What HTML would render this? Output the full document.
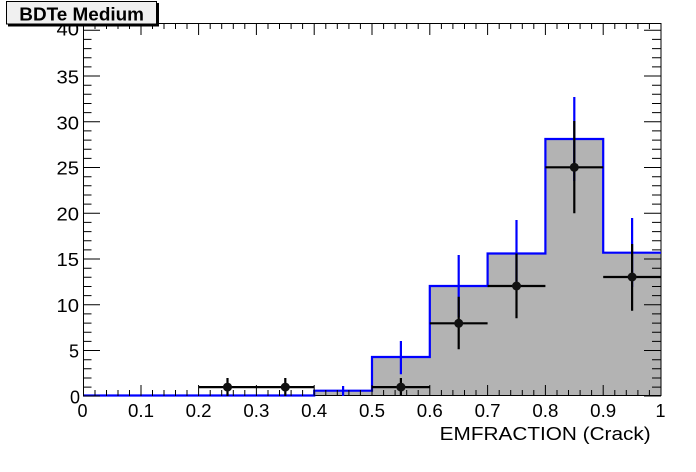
<!DOCTYPE html>
<html><head><meta charset="utf-8"><style>
html,body{margin:0;padding:0;background:#fff;}
svg{display:block;}
text{font-family:"Liberation Sans",Arial,sans-serif;fill:#000;}
</style></head><body>
<svg width="696" height="472" viewBox="0 0 696 472" xmlns="http://www.w3.org/2000/svg">
<rect x="0" y="0" width="696" height="472" fill="#fff"/>
<!-- histogram fill -->
<path d="M314.2 396 V390.7 H372 V357 H429.8 V286 H487.6 V253.5 H545.4 V139 H603.2 V252.7 H661 V396 Z" fill="#b3b3b3"/>
<!-- frame -->
<rect x="83.5" y="23.5" width="577.5" height="372" fill="none" stroke="#000" stroke-width="1"/>
<!-- histogram outline -->
<path d="M83 395.5 H314.2 V390.7 H372 V357 H429.8 V286 H487.6 V253.5 H545.4 V139 H603.2 V252.7 H661" fill="none" stroke="#0000ff" stroke-width="2.2"/>
<!-- hist errors -->
<path d="M343.1 386 V396 M400.9 341 V374.3 M458.7 255 V317 M516.5 220 V287 M574.3 97 V181 M632.1 218 V287" stroke="#0000ff" stroke-width="2.2" fill="none"/>
<!-- data -->
<path d="M198.6 387.1 H314.2 M372 387.1 H429.8 M429.8 323.3 H487.6 M487.6 286 H545.4 M545.4 167.3 H603.2 M603.2 277 H661
M227.5 378 V396 M285.3 378 V396 M400.9 378 V396 M458.7 296.7 V349.3 M516.5 253.5 V318.3 M574.3 121 V213.3 M632.1 244 V310.7" stroke="#000" stroke-width="2.2" fill="none"/>
<g fill="#111">
<circle cx="227.5" cy="387.1" r="4.5"/>
<circle cx="285.3" cy="387.1" r="4.5"/>
<circle cx="400.9" cy="387.1" r="4.5"/>
<circle cx="458.7" cy="323.3" r="4.5"/>
<circle cx="516.5" cy="286" r="4.5"/>
<circle cx="574.3" cy="167.3" r="4.5"/>
<circle cx="632.1" cy="277" r="4.5"/>
</g>
<!-- x ticks bottom & top -->
<path stroke="#000" stroke-width="1" fill="none" d="
M83.5 396 v-11 M95 396 v-6 M106.5 396 v-6 M118 396 v-6 M129.5 396 v-6
M141 396 v-11 M152.5 396 v-6 M164 396 v-6 M175.5 396 v-6 M187 396 v-6
M198.6 396 v-11 M210.2 396 v-6 M221.7 396 v-6 M233.3 396 v-6 M244.8 396 v-6
M256.4 396 v-11 M268 396 v-6 M279.5 396 v-6 M291.1 396 v-6 M302.6 396 v-6
M314.2 396 v-11 M325.8 396 v-6 M337.3 396 v-6 M348.9 396 v-6 M360.4 396 v-6
M372 396 v-11 M383.6 396 v-6 M395.1 396 v-6 M406.7 396 v-6 M418.2 396 v-6
M429.8 396 v-11 M441.4 396 v-6 M452.9 396 v-6 M464.5 396 v-6 M476 396 v-6
M487.6 396 v-11 M499.2 396 v-6 M510.7 396 v-6 M522.3 396 v-6 M533.8 396 v-6
M545.4 396 v-11 M557 396 v-6 M568.5 396 v-6 M580.1 396 v-6 M591.6 396 v-6
M603.2 396 v-11 M614.8 396 v-6 M626.3 396 v-6 M637.9 396 v-6 M649.4 396 v-6
M83.5 23 v12 M95 23 v6 M106.5 23 v6 M118 23 v6 M129.5 23 v6
M141 23 v12 M152.5 23 v6 M164 23 v6 M175.5 23 v6 M187 23 v6
M198.6 23 v12 M210.2 23 v6 M221.7 23 v6 M233.3 23 v6 M244.8 23 v6
M256.4 23 v12 M268 23 v6 M279.5 23 v6 M291.1 23 v6 M302.6 23 v6
M314.2 23 v12 M325.8 23 v6 M337.3 23 v6 M348.9 23 v6 M360.4 23 v6
M372 23 v12 M383.6 23 v6 M395.1 23 v6 M406.7 23 v6 M418.2 23 v6
M429.8 23 v12 M441.4 23 v6 M452.9 23 v6 M464.5 23 v6 M476 23 v6
M487.6 23 v12 M499.2 23 v6 M510.7 23 v6 M522.3 23 v6 M533.8 23 v6
M545.4 23 v12 M557 23 v6 M568.5 23 v6 M580.1 23 v6 M591.6 23 v6
M603.2 23 v12 M614.8 23 v6 M626.3 23 v6 M637.9 23 v6 M649.4 23 v6
"/>
<!-- y ticks left & right -->
<path stroke="#000" stroke-width="1" fill="none" d="
M83 396 h17 M83 387.1 h8.5 M83 378 h8.5 M83 368.8 h8.5 M83 359.7 h8.5
M83 350.5 h17 M83 341.4 h8.5 M83 332.2 h8.5 M83 323.1 h8.5 M83 313.9 h8.5
M83 304.8 h17 M83 295.6 h8.5 M83 286.5 h8.5 M83 277.3 h8.5 M83 268.2 h8.5
M83 259 h17 M83 249.9 h8.5 M83 240.7 h8.5 M83 231.6 h8.5 M83 222.4 h8.5
M83 213.3 h17 M83 204.1 h8.5 M83 195 h8.5 M83 185.8 h8.5 M83 176.7 h8.5
M83 167.5 h17 M83 158.4 h8.5 M83 149.2 h8.5 M83 140.1 h8.5 M83 130.9 h8.5
M83 121.8 h17 M83 112.6 h8.5 M83 103.5 h8.5 M83 94.3 h8.5 M83 85.2 h8.5
M83 76 h17 M83 66.9 h8.5 M83 57.7 h8.5 M83 48.6 h8.5 M83 39.4 h8.5
M83 30.3 h17
M661 396 h-17 M661 387.1 h-9 M661 378 h-9 M661 368.8 h-9 M661 359.7 h-9
M661 350.5 h-17 M661 341.4 h-9 M661 332.2 h-9 M661 323.1 h-9 M661 313.9 h-9
M661 304.8 h-17 M661 295.6 h-9 M661 286.5 h-9 M661 277.3 h-9 M661 268.2 h-9
M661 259 h-17 M661 249.9 h-9 M661 240.7 h-9 M661 231.6 h-9 M661 222.4 h-9
M661 213.3 h-17 M661 204.1 h-9 M661 195 h-9 M661 185.8 h-9 M661 176.7 h-9
M661 167.5 h-17 M661 158.4 h-9 M661 149.2 h-9 M661 140.1 h-9 M661 130.9 h-9
M661 121.8 h-17 M661 112.6 h-9 M661 103.5 h-9 M661 94.3 h-9 M661 85.2 h-9
M661 76 h-17 M661 66.9 h-9 M661 57.7 h-9 M661 48.6 h-9 M661 39.4 h-9
M661 30.3 h-17
"/>
<!-- x labels -->
<g font-size="18" text-anchor="middle">
<text x="82.5" y="417">0</text>
<text x="141" y="417" textLength="26" lengthAdjust="spacingAndGlyphs">0.1</text>
<text x="198.6" y="417" textLength="26" lengthAdjust="spacingAndGlyphs">0.2</text>
<text x="256.4" y="417" textLength="26" lengthAdjust="spacingAndGlyphs">0.3</text>
<text x="314.2" y="417" textLength="26" lengthAdjust="spacingAndGlyphs">0.4</text>
<text x="372" y="417" textLength="26" lengthAdjust="spacingAndGlyphs">0.5</text>
<text x="429.8" y="417" textLength="26" lengthAdjust="spacingAndGlyphs">0.6</text>
<text x="487.6" y="417" textLength="26" lengthAdjust="spacingAndGlyphs">0.7</text>
<text x="545.4" y="417" textLength="26" lengthAdjust="spacingAndGlyphs">0.8</text>
<text x="603.2" y="417" textLength="26" lengthAdjust="spacingAndGlyphs">0.9</text>
<text x="660.5" y="417">1</text>
</g>
<!-- y labels -->
<g font-size="18" text-anchor="end">
<text x="80" y="403.5">0</text>
<text x="79" y="357.5">5</text>
<text x="79" y="311.8" textLength="22.5" lengthAdjust="spacingAndGlyphs">10</text>
<text x="79" y="266" textLength="22.5" lengthAdjust="spacingAndGlyphs">15</text>
<text x="79" y="220.3" textLength="22.5" lengthAdjust="spacingAndGlyphs">20</text>
<text x="79" y="174.5" textLength="22.5" lengthAdjust="spacingAndGlyphs">25</text>
<text x="79" y="129.3" textLength="22.5" lengthAdjust="spacingAndGlyphs">30</text>
<text x="79" y="83.5" textLength="22.5" lengthAdjust="spacingAndGlyphs">35</text>
<text x="79" y="35.5" textLength="22.5" lengthAdjust="spacingAndGlyphs">40</text>
</g>
<!-- axis title -->
<text x="650.7" y="440" font-size="18" text-anchor="end" textLength="211" lengthAdjust="spacingAndGlyphs">EMFRACTION (Crack)</text>
<!-- title box -->
<rect x="8" y="3" width="151" height="23.5" fill="#000"/>
<rect x="6.5" y="1.5" width="150" height="22.5" fill="#f0f0f0" stroke="#000" stroke-width="1"/>
<text x="19.3" y="20.7" font-size="18.5" font-weight="bold" textLength="124.7" lengthAdjust="spacingAndGlyphs">BDTe Medium</text>
</svg>
</body></html>
